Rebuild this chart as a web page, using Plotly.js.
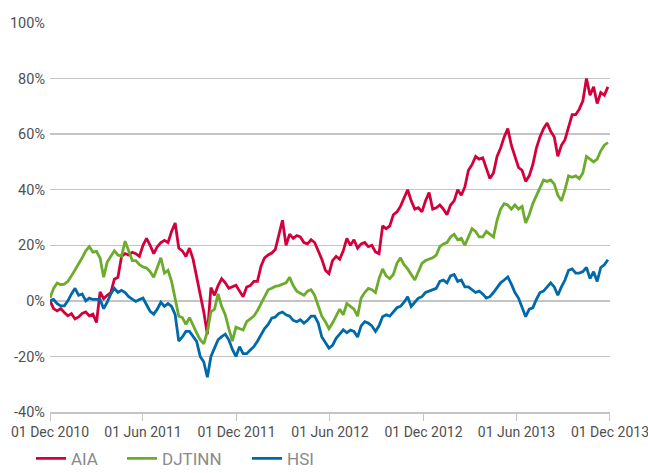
<!DOCTYPE html>
<html>
<head>
<meta charset="utf-8">
<script src="https://cdn.plot.ly/plotly-3.0.1.min.js"></script>
<style>
  html, body { margin: 0; padding: 0; background: #ffffff; }
  #chart { width: 648px; height: 473px; }
</style>
</head>
<body>
<div id="chart"></div>
<script>
// Weekly observations starting 01 Dec 2010 (cumulative % change)
const startDate = "2010-12-01";
const seriesNames = ["AIA", "DJTINN", "HSI"];
const seriesColors = ["#d4003b", "#6cab2b", "#0069aa"];

const aiaValues = [
  0, -2.8, -3.6, -2.8, -4.2, -5.4, -4.6, -6.5, -5.8, -4.5,
  -4, -5.4, -4.8, -7.8, 3.2, 0.8, 2, 3, 7.8, 8.5,
  16, 17, 16.5, 17.5, 17, 16, 20, 22.5, 20, 17,
  19.5, 21, 21.8, 21, 25, 28, 19, 18, 16, 19,
  15, 8.8, 2.5, -4, -12, 4.8, 2, 5.5, 8, 6.5,
  4.5, 5, 5.6, 3.5, 1.5, 5, 5.5, 7, 7, 12.5,
  15.5, 16.5, 17.2, 18.5, 24, 29, 20, 24, 22.5, 23.5,
  23, 21, 20.5, 22, 21, 18, 15, 11, 9.8, 14.5,
  16, 15, 18, 22.5, 20, 22, 19, 20.5, 21, 19.5,
  20, 17.6, 17, 27, 26, 27, 31, 32, 34, 37,
  40, 36, 33, 33.5, 32, 36, 39, 33, 33.5, 34.5,
  33, 31, 34.5, 36, 40, 38, 41, 47, 49, 52,
  51, 51.5, 48, 44, 46, 52, 55, 59, 62, 56,
  52, 48, 47, 43, 45, 49, 55, 59, 62, 64,
  61, 59, 52, 56, 58, 63, 67, 67, 69, 72,
  80, 74, 77, 71, 75, 74, 77
];

const djtinnValues = [
  1, 4.5, 6.4, 5.8, 6, 7, 9, 11, 13, 15.5,
  18, 19.5, 17.5, 17.8, 15.4, 8.5, 14, 16, 18, 16.5,
  16, 21.5, 18, 14.5, 14.5, 13, 12.2, 11.8, 10.5, 8.5,
  12, 15.5, 10, 11, 7, 0.5, -5.5, -6, -8.5, -6,
  -9, -11.5, -14, -15.5, -11, -4, -3, 2.5, -2, -5,
  -10, -14.5, -9.5, -10, -10.5, -7.5, -6.5, -5.5, -3.5, -1,
  1.5, 4, 4.5, 5.2, 5.5, 6, 6.5, 8.5, 5.5, 3.5,
  2.8, 2, 3.5, 4, 2, -2, -5.5, -7.5, -10, -8,
  -5.5, -3, -5, -1, -2, -3, -5.5, 1, 3, 4.5,
  4, 3, 8, 11.5, 9, 8, 9.5, 13.5, 15.5, 13,
  11.5, 9.5, 7.5, 10.5, 13.5, 14.5, 15, 15.5, 16.5, 19.5,
  20.5, 21, 23, 24, 22, 22.5, 20, 23, 26, 25,
  23, 23, 25, 24, 23, 29, 33, 35, 34.5, 33,
  34.5, 33, 34, 28, 31, 35, 38, 41, 43.5, 43,
  43.5, 42, 38, 36, 40, 45, 44.5, 45, 44, 46,
  52, 51, 50, 51, 54, 56, 57
];

const hsiValues = [
  0, 0.5, -1, -1.8, -1.8, 0, 2.5, 4.5, 2, 2.5,
  0, 1, 0.5, 0.5, 0.5, -2.8, -0.5, 2.5, 4.5, 3,
  3.8, 3, 1.5, 0.6, -0.2, 0.5, 1, -1.4, -3.8, -4.8,
  -3, -0.5, -2, -1, -2, -5, -14.5, -13, -11, -11,
  -13, -14.6, -20, -22, -27.5, -20, -17, -14, -12.9, -12,
  -14, -17.5, -20, -16.5, -19, -19, -17.7, -16.5, -14.5, -12,
  -10, -8.5, -6.2, -5.8, -4.5, -4, -5, -5.5, -7, -7.5,
  -6.8, -8, -7, -5.5, -5.5, -8, -13, -15, -17, -16,
  -13.5, -12, -10.4, -11.5, -10.5, -11, -13, -9, -7.5, -8,
  -9, -11, -9, -5.7, -5, -5.5, -4, -2.5, -2, -0.5,
  1.5, -2, -0.5, 1, 1.5, 3, 3.5, 4, 4.5, 7,
  7.5, 6.5, 9, 9.5, 7, 7.5, 5, 5, 4, 3,
  3.5, 2.5, 1, 1.5, 3, 5, 6.5, 7.5, 8.6, 6,
  3, 1, -2.5, -5.7, -3, -2.5, 0.5, 3, 3.5, 5,
  6.5, 5, 2, 5, 7.5, 11, 11.5, 10, 10, 10.5,
  12, 8, 10.5, 7, 12, 13, 14.8
];

const xTickVals = ["2010-12-01", "2011-06-01", "2011-12-01", "2012-06-01", "2012-12-01", "2013-06-01", "2013-12-01"];
const xTickText = ["01 Dec 2010", "01 Jun 2011", "01 Dec 2011", "01 Jun 2012", "01 Dec 2012", "01 Jun 2013", "01 Dec 2013"];
const yTickVals = [-40, -20, 0, 20, 40, 60, 80, 100];
const yTickText = ["-40%", "-20%", "0%", "20%", "40%", "60%", "80%", "100%"];

// weekly dates for the observations
function weeklyDates(start, n) {
  const out = [];
  const d0 = new Date(start + "T00:00:00Z");
  for (let i = 0; i < n; i++) {
    const d = new Date(d0.getTime() + i * 7 * 86400000);
    out.push(d.toISOString().slice(0, 10));
  }
  return out;
}

const allValues = [aiaValues, djtinnValues, hsiValues];
const legendIds = ["legend", "legend2", "legend3"];
const FONT = "Roboto, 'DejaVu Sans', sans-serif";

const traces = allValues.map((vals, k) => ({
  type: "scatter",
  mode: "lines",
  name: seriesNames[k],
  x: weeklyDates(startDate, vals.length),
  y: vals,
  line: { color: seriesColors[k], width: 2.8 },
  legend: legendIds[k],
  hoverinfo: "skip"
}));

const legendFont = { family: FONT, size: 17, color: "#8a8a8a" };
function mkLegend(xpx) {
  return {
    orientation: "h",
    x: (xpx - 50) / 560,
    xanchor: "left",
    y: -0.074,
    yanchor: "top",
    font: legendFont,
    bgcolor: "rgba(0,0,0,0)",
    borderwidth: 0,
    itemwidth: 30
  };
}

const layout = {
  width: 648,
  height: 473,
  margin: { l: 50, r: 38, t: 23, b: 61, pad: 0, autoexpand: false },
  paper_bgcolor: "#ffffff",
  plot_bgcolor: "#ffffff",
  font: { family: FONT, size: 14, color: "#505050" },
  showlegend: true,
  legend: mkLegend(31),
  legend2: mkLegend(122),
  legend3: mkLegend(247),
  xaxis: {
    type: "date",
    range: ["2010-12-01", "2013-12-01 02:00"],
    tickvals: xTickVals,
    ticktext: xTickText,
    showgrid: false,
    zeroline: false,
    showline: true,
    linecolor: "#c4c4c4",
    linewidth: 1.5,
    ticks: "outside",
    ticklen: 7,
    tickcolor: "#c4c4c4",
    tickwidth: 1,
    ticklabeloverflow: "allow",
    tickfont: { family: FONT, size: 14, color: "#505050" },
    automargin: false,
    fixedrange: true
  },
  yaxis: {
    range: [-40, 100],
    tickvals: yTickVals,
    ticktext: yTickText,
    showgrid: true,
    gridcolor: "#c4c4c4",
    gridwidth: 1.5,
    zeroline: false,
    showline: false,
    ticks: "",
    ticklabelstandoff: 4,
    tickfont: { family: FONT, size: 14.5, color: "#505050" },
    automargin: false,
    fixedrange: true
  }
};

Plotly.newPlot("chart", traces, layout, { displayModeBar: false, staticPlot: true });
</script>
</body>
</html>
